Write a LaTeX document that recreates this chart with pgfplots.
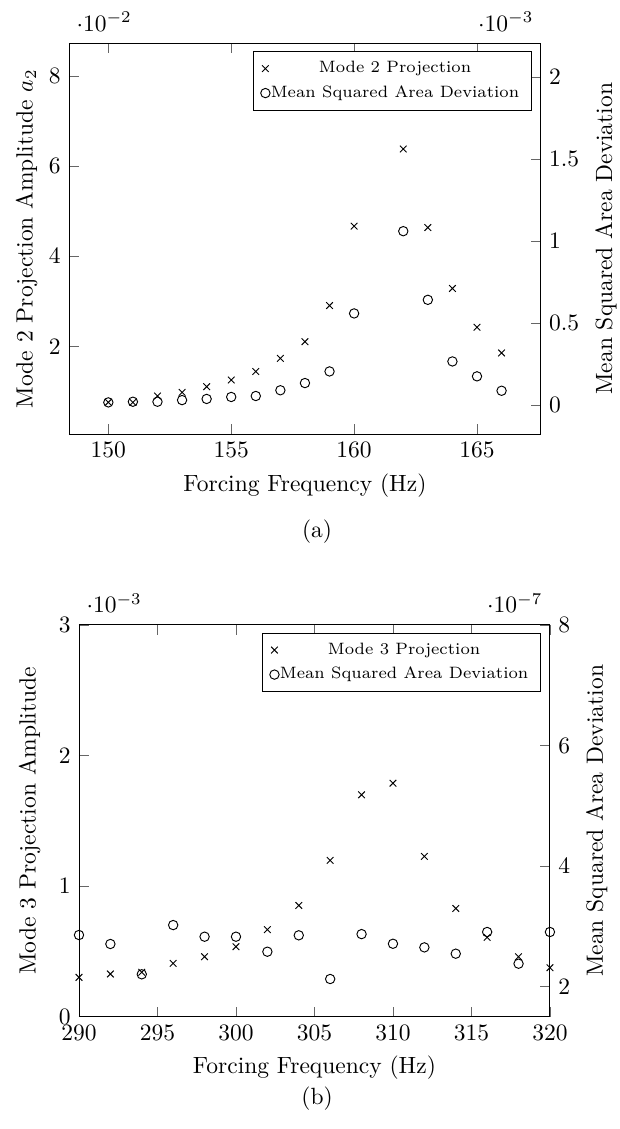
\documentclass[border=0pt]{standalone}
\usepackage{pgfplots}
\pgfplotsset{compat=1.18}
\pgfplotsset{twin/.style={scale only axis, anchor=south west,
  tick style={black!60}, legend cell align=center,
  legend style={font=\scriptsize, /tikz/every odd column/.append style={column sep=-1.7pt}}},
  mk/.style={only marks, black, mark=#1}}
\begin{document}
\begin{tikzpicture}
\path[use as bounding box] (0,0) rectangle (263.4pt,-480.4pt);
% ---------- (a) ----------
\begin{axis}[twin, at={(29.36pt,-184.67pt)}, width=200.8pt, height=166.2pt,
  xmin=148.4, xmax=167.6, ymin=0.00064, ymax=0.0872,
  axis y line*=left,
  xtick={150,155,160,165}, ytick={0.02,0.04,0.06,0.08},
  xlabel={Forcing Frequency (Hz)}, ylabel shift=-2pt,
  ylabel={Mode 2 Projection Amplitude $a_2$}]
\addplot[mk=x] coordinates {
(150,0.766e-2) (151,0.766e-2) (152,0.906e-2) (153,0.987e-2) (154,1.112e-2)
(155,1.26e-2) (156,1.45e-2) (157,1.74e-2) (158,2.11e-2) (159,2.91e-2)
(160,4.67e-2) (162,6.38e-2) (163,4.64e-2) (164,3.29e-2) (165,2.43e-2) (166,1.86e-2)};
\end{axis}
\begin{axis}[twin, at={(29.36pt,-184.67pt)}, width=200.8pt, height=166.2pt,
  xmin=148.4, xmax=167.6, ymin=-0.177e-3, ymax=2.207e-3,
  axis y line*=right, axis x line=none,
  ytick={0,0.5e-3,1e-3,1.5e-3,2e-3},
  ylabel={Mean Squared Area Deviation}]
\addlegendimage{mk=x}
\addlegendentry{Mode 2 Projection}
\addplot[mk=o] coordinates {
(150,0.016e-3) (151,0.02e-3) (152,0.02e-3) (153,0.03e-3) (154,0.037e-3)
(155,0.049e-3) (156,0.055e-3) (157,0.09e-3) (158,0.134e-3) (159,0.205e-3)
(160,0.559e-3) (162,1.061e-3) (163,0.642e-3) (164,0.266e-3) (165,0.175e-3) (166,0.087e-3)};
\addlegendentry{Mean Squared Area Deviation}
\end{axis}
\node at (134.9pt,-226.4pt) {(a)};
% ---------- (b) ----------
\begin{axis}[twin, at={(33.61pt,-432.6pt)}, width=200.4pt, height=166.7pt,
  xmin=290, xmax=320, ymin=0, ymax=3e-3,
  axis y line*=left,
  xtick={290,295,...,320}, ytick={0,1e-3,2e-3,3e-3},
  xlabel={Forcing Frequency (Hz)}, ylabel shift=1pt,
  ylabel={Mode 3 Projection Amplitude}]
\addplot[mk=x] coordinates {
(290,0.301e-3) (292,0.327e-3) (294,0.34e-3) (296,0.408e-3) (298,0.459e-3)
(300,0.536e-3) (302,0.666e-3) (304,0.852e-3) (306,1.197e-3) (308,1.699e-3)
(310,1.788e-3) (312,1.227e-3) (314,0.829e-3) (316,0.607e-3) (318,0.459e-3) (320,0.375e-3)};
\end{axis}
\begin{axis}[twin, at={(33.61pt,-432.6pt)}, width=200.4pt, height=166.7pt,
  xmin=290, xmax=320, ymin=1.5e-7, ymax=8e-7,
  axis y line*=right, axis x line=none,
  ytick={2e-7,4e-7,6e-7,8e-7},
  ylabel={Mean Squared Area Deviation}]
\addlegendimage{mk=x}
\addlegendentry{Mode 3 Projection}
\addplot[mk=o] coordinates {
(290,2.855e-7) (292,2.706e-7) (294,2.203e-7) (296,3.02e-7) (298,2.827e-7)
(300,2.827e-7) (302,2.578e-7) (304,2.85e-7) (306,2.125e-7) (308,2.87e-7)
(310,2.71e-7) (312,2.65e-7) (314,2.545e-7) (316,2.905e-7) (318,2.379e-7) (320,2.905e-7)};
\addlegendentry{Mean Squared Area Deviation}
\end{axis}
\node at (134.9pt,-467.6pt) {(b)};
\end{tikzpicture}
\end{document}
